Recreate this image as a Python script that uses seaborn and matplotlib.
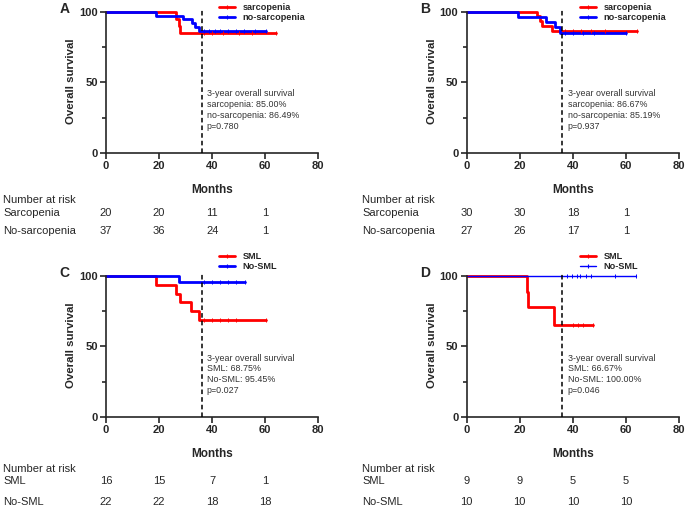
"""Kaplan-Meier overall survival curves, sarcopenia and SML groups."""

import numpy as np
import pandas as pd
import matplotlib
matplotlib.use("Agg")
import matplotlib.pyplot as plt
from matplotlib.lines import Line2D
from matplotlib.transforms import blended_transform_factory
import seaborn as sns

RED = "#ff0000"
BLUE = "#0000ff"

# ---- survival steps (time in months, survival in %) ----
a_sarc_t = [0, 26.5, 27.5, 28, 64]
a_sarc_s = [100, 95, 90, 85, 85]
a_nosarc_t = [0, 19, 29, 32.3, 33.6, 35, 60.3]
a_nosarc_s = [100, 97.3, 94.6, 91.9, 89.2, 86.49, 86.49]
a_sarc_cens = [37, 40, 44, 50, 55, 64]
a_nosarc_cens = [37, 39, 41, 43, 46, 49, 52, 56, 60.3]

b_sarc_t = [0, 26.6, 27.7, 28.3, 32.3, 64]
b_sarc_s = [100, 96.7, 93.3, 90, 86.67, 86.67]
b_nosarc_t = [0, 19.5, 29.9, 33.3, 35.2, 60]
b_nosarc_s = [100, 96.3, 92.6, 88.9, 85.19, 85.19]
b_sarc_cens = [37, 40, 43, 47, 52, 64]
b_nosarc_cens = [37, 40, 44, 48, 60]

c_sml_t = [0, 19, 26.3, 27.9, 32, 35.1, 60.3]
c_sml_s = [100, 93.75, 87.5, 81.25, 75, 68.75, 68.75]
c_nosml_t = [0, 27.5, 52.5]
c_nosml_s = [100, 95.45, 95.45]
c_sml_cens = [37, 40, 43, 46, 49, 60.3]
c_nosml_cens = [37, 40, 43, 46, 49, 52.5]

d_sml_t = [0, 22.6, 23, 33, 47.4]
d_sml_s = [100, 88.9, 77.8, 65, 65]
d_nosml_t = [0, 63.9]
d_nosml_s = [100, 100]
d_sml_cens = [40, 42, 44, 47.4]
d_nosml_cens = [37.7, 39.5, 41.4, 42.7, 44.9, 47, 56, 63.9]

# ---- number at risk at 0, 20, 40, 60 months ----
risk_times = [0, 20, 40, 60]
a_risk = {"Sarcopenia": [20, 20, 11, 1], "No-sarcopenia": [37, 36, 24, 1]}
b_risk = {"Sarcopenia": [30, 30, 18, 1], "No-sarcopenia": [27, 26, 17, 1]}
c_risk = {"SML": [16, 15, 7, 1], "No-SML": [22, 22, 18, 18]}
d_risk = {"SML": [9, 9, 5, 5], "No-SML": [10, 10, 10, 10]}

a_note = "3-year overall survival\nsarcopenia: 85.00%\nno-sarcopenia: 86.49%\np=0.780"
b_note = "3-year overall survival\nsarcopenia: 86.67%\nno-sarcopenia: 85.19%\np=0.937"
c_note = "3-year overall survival\nSML: 68.75%\nNo-SML: 95.45%\np=0.027"
d_note = "3-year overall survival\nSML: 66.67%\nNo-SML: 100.00%\np=0.046"

sns.set_style("ticks")
plt.rcParams["font.family"] = ["Liberation Sans", "DejaVu Sans"]

fig = plt.figure(figsize=(6.85, 5.11), dpi=100)

W = 0.310
H_TOP, H_BOT = 0.2818, 0.2814
panels = [
    dict(letter="A", pos=[0.1547, 0.7006, W, H_TOP], names=("sarcopenia", "no-sarcopenia"),
         curves=[(a_sarc_t, a_sarc_s, a_sarc_cens, RED, 2.0),
                 (a_nosarc_t, a_nosarc_s, a_nosarc_cens, BLUE, 2.0)],
         risk=a_risk, note=a_note, leg_y=1.075, risk_y=(200, 213, 231), lab_x=3),
    dict(letter="B", pos=[0.6813, 0.7006, W, H_TOP], names=("sarcopenia", "no-sarcopenia"),
         curves=[(b_sarc_t, b_sarc_s, b_sarc_cens, RED, 2.0),
                 (b_nosarc_t, b_nosarc_s, b_nosarc_cens, BLUE, 2.0)],
         risk=b_risk, note=b_note, leg_y=1.075, risk_y=(200, 213, 231), lab_x=362),
    dict(letter="C", pos=[0.1547, 0.1840, W, H_BOT], names=("SML", "No-SML"),
         curves=[(c_sml_t, c_sml_s, c_sml_cens, RED, 2.0),
                 (c_nosml_t, c_nosml_s, c_nosml_cens, BLUE, 2.0)],
         risk=c_risk, note=c_note, leg_y=1.18, risk_y=(469, 481, 502), lab_x=3),
    dict(letter="D", pos=[0.6813, 0.1840, W, H_BOT], names=("SML", "No-SML"),
         curves=[(d_sml_t, d_sml_s, d_sml_cens, RED, 2.0),
                 (d_nosml_t, d_nosml_s, d_nosml_cens, BLUE, 1.0)],
         risk=d_risk, note=d_note, leg_y=1.18, risk_y=(469, 481, 502), lab_x=362),
]

for p in panels:
    ax = fig.add_axes(p["pos"])
    handles = []
    for (t, s, cens, col, lw), name in zip(p["curves"], p["names"]):
        df = pd.DataFrame({"time": t, "surv": s})
        sns.lineplot(data=df, x="time", y="surv", ax=ax, color=col, linewidth=lw,
                     drawstyle="steps-post", estimator=None, sort=False)
        # censored observations as small ticks on the curve
        cdf = pd.DataFrame({"time": cens,
                            "surv": [s[np.searchsorted(t, c, side="right") - 1] for c in cens]})
        sns.scatterplot(data=cdf, x="time", y="surv", ax=ax, color=col, marker="|",
                        s=5, linewidth=0.7, zorder=4)
        handles.append(Line2D([], [], color=col, lw=lw, marker="|", ms=3, mew=0.8, label=name))
    for ln in ax.lines:
        ln.set_clip_on(False)

    ax.vlines(36, 0, 102, colors="black", linestyles=(0, (3, 2)), linewidth=1.1, zorder=5)
    ax.text(38, 45, p["note"], fontsize=6.4, color="#333333", va="top", ha="left",
            linespacing=1.25)

    ax.set_xlim(0, 80)
    ax.set_ylim(0, 102)
    ax.set_xticks([0, 20, 40, 60, 80])
    ax.set_yticks([0, 50, 100])
    ax.set_yticks([25, 75], minor=True)
    ax.spines["left"].set_bounds(0, 100)
    ax.spines[["top", "right"]].set_visible(False)
    for sp in ("left", "bottom"):
        ax.spines[sp].set_linewidth(1.2)
    ax.tick_params(axis="both", which="major", length=4, width=1.2, labelsize=8, pad=2)
    ax.tick_params(axis="y", which="minor", length=3, width=1.2)
    for lbl in ax.get_xticklabels() + ax.get_yticklabels():
        lbl.set_fontweight("bold")
    ax.set_xlabel("Months", fontsize=8.5, fontweight="bold", labelpad=9)
    ax.set_ylabel("Overall survival", fontsize=8.2, fontweight="bold", labelpad=2)

    ax.legend(handles=handles, loc="upper left", bbox_to_anchor=(0.51, p["leg_y"]),
              frameon=False, prop={"size": 6.6, "weight": "bold"}, handlelength=1.8,
              labelspacing=0.15, borderpad=0, handletextpad=0.8)

    ax.text(-0.22, 1.0, p["letter"], transform=ax.transAxes, fontsize=10,
            fontweight="bold", va="center", ha="left")

    # number-at-risk table under the x axis
    tr = blended_transform_factory(ax.transData, fig.transFigure)
    y0, y1, y2 = [1 - v / 511 for v in p["risk_y"]]
    fig.text(p["lab_x"] / 685, y0, "Number at risk", fontsize=8, va="center")
    for (name, vals), yy in zip(p["risk"].items(), (y1, y2)):
        fig.text(p["lab_x"] / 685, yy, name, fontsize=8, va="center")
        for xt, v in zip(risk_times, vals):
            ax.text(xt, yy, str(v), transform=tr, fontsize=8, va="center", ha="center")

fig.savefig("out.png", dpi=100)
